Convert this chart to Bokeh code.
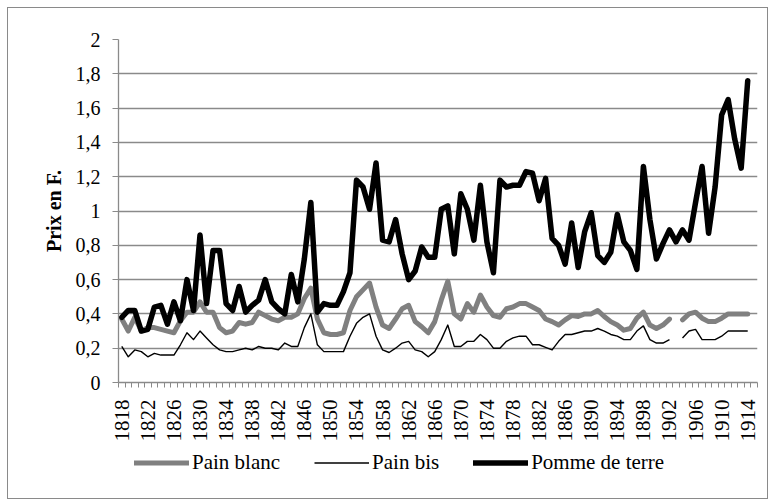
import math
from bokeh.plotting import figure
from bokeh.layouts import column
from bokeh.models import (ColumnDataSource, FixedTicker, Legend, LegendItem, Range1d)
from bokeh.embed import file_html
from bokeh.resources import INLINE

nan = float("nan")

years = list(range(1818, 1915))

pomme_de_terre = [
    0.38, 0.42, 0.42, 0.30, 0.31, 0.44, 0.45, 0.34, 0.47, 0.36,   # 1818-1827
    0.60, 0.42, 0.86, 0.46, 0.77, 0.77, 0.46, 0.42, 0.56, 0.41,   # 1828-1837
    0.45, 0.48, 0.60, 0.47, 0.43, 0.40, 0.63, 0.47, 0.72, 1.05,   # 1838-1847
    0.41, 0.46, 0.45, 0.45, 0.53, 0.64, 1.18, 1.14, 1.01, 1.28,   # 1848-1857
    0.83, 0.82, 0.95, 0.75, 0.60, 0.65, 0.79, 0.73, 0.73, 1.01,   # 1858-1867
    1.03, 0.75, 1.10, 1.01, 0.83, 1.15, 0.82, 0.64, 1.18, 1.14,   # 1868-1877
    1.15, 1.15, 1.23, 1.22, 1.06, 1.19, 0.84, 0.80, 0.69, 0.93,   # 1878-1887
    0.67, 0.88, 0.99, 0.74, 0.70, 0.76, 0.98, 0.82, 0.77, 0.66,   # 1888-1897
    1.26, 0.95, 0.72, 0.81, 0.89, 0.82, 0.89, 0.83, 1.05, 1.26,   # 1898-1907
    0.87, 1.14, 1.56, 1.65, 1.42, 1.25, 1.76,                     # 1908-1914
]

pain_blanc = [
    0.37, 0.30, 0.38, 0.30, 0.32, 0.32, 0.31, 0.30, 0.29, 0.36,   # 1818-1827
    0.41, 0.41, 0.47, 0.41, 0.41, 0.32, 0.29, 0.30, 0.35, 0.34,   # 1828-1837
    0.35, 0.41, 0.39, 0.37, 0.36, 0.38, 0.38, 0.40, 0.49, 0.55,   # 1838-1847
    0.37, 0.29, 0.28, 0.28, 0.29, 0.42, 0.50, 0.54, 0.58, 0.44,   # 1848-1857
    0.335, 0.315, 0.37, 0.43, 0.45, 0.355, 0.325, 0.29, 0.355, 0.48,  # 1858-1867
    0.59, 0.40, 0.37, 0.46, 0.41, 0.51, 0.44, 0.39, 0.38, 0.43,   # 1868-1877
    0.44, 0.46, 0.46, 0.44, 0.42, 0.37, 0.355, 0.335, 0.365, 0.39,  # 1878-1887
    0.385, 0.40, 0.40, 0.42, 0.385, 0.355, 0.335, 0.305, 0.315, 0.375,  # 1888-1897
    0.41, 0.335, 0.315, 0.335, 0.37, nan, 0.365, 0.40, 0.41, 0.375,  # 1898-1907
    0.355, 0.355, 0.375, 0.40, 0.40, 0.40, 0.40,                  # 1908-1914
]

pain_bis = [
    0.21, 0.15, 0.19, 0.18, 0.15, 0.17, 0.16, 0.16, 0.16, 0.22,   # 1818-1827
    0.29, 0.25, 0.30, 0.26, 0.22, 0.19, 0.18, 0.18, 0.19, 0.20,   # 1828-1837
    0.19, 0.21, 0.20, 0.20, 0.19, 0.23, 0.21, 0.21, 0.32, 0.40,   # 1838-1847
    0.22, 0.18, 0.18, 0.18, 0.18, 0.27, 0.345, 0.38, 0.40, 0.27,  # 1848-1857
    0.19, 0.175, 0.20, 0.23, 0.24, 0.19, 0.18, 0.15, 0.18, 0.25,  # 1858-1867
    0.335, 0.21, 0.21, 0.24, 0.24, 0.28, 0.25, 0.20, 0.20, 0.24,  # 1868-1877
    0.26, 0.27, 0.27, 0.22, 0.22, 0.205, 0.19, 0.24, 0.28, 0.28,  # 1878-1887
    0.29, 0.30, 0.30, 0.315, 0.30, 0.28, 0.27, 0.25, 0.25, 0.30,  # 1888-1897
    0.33, 0.25, 0.23, 0.23, 0.25, nan, 0.26, 0.30, 0.31, 0.25,    # 1898-1907
    0.25, 0.25, 0.27, 0.30, 0.30, 0.30, 0.30,                     # 1908-1914
]

y_ticks = [0, 0.2, 0.4, 0.6, 0.8, 1.0, 1.2, 1.4, 1.6, 1.8, 2.0]
y_tick_labels = ["0", "0,2", "0,4", "0,6", "0,8", "1", "1,2", "1,4", "1,6", "1,8", "2"]
x_label_years = years[::4]
series_names = ["Pain blanc", "Pain bis", "Pomme de terre"]
y_title = "Prix en F."

FONT = "'Liberation Serif', 'Times New Roman', serif"
GRID = "#8a8a8a"
styles = [dict(line_color="#808080", line_width=5, line_join="round", line_cap="round"),
          dict(line_color="black", line_width=1.4, line_join="round"),
          dict(line_color="black", line_width=5.5, line_join="round", line_cap="round")]

src = ColumnDataSource(dict(year=years, blanc=pain_blanc, bis=pain_bis, pomme=pomme_de_terre))

p = figure(frame_width=639, frame_height=343, output_backend="svg", toolbar_location=None,
           x_range=Range1d(years[0] - 0.5, years[-1] + 1.5), y_range=Range1d(0, 2),
           min_border_left=110, min_border_right=10, min_border_top=31, min_border_bottom=60)
p.outline_line_color = None
p.background_fill_color = "white"
p.border_fill_color = "white"

p.line("year", "blanc", source=src, **styles[0])
p.line("year", "bis", source=src, **styles[1])
p.line("year", "pomme", source=src, **styles[2])

# x axis
boundaries = [y - 0.5 for y in years] + [years[-1] + 0.5, years[-1] + 1.5]
p.xaxis.ticker = FixedTicker(ticks=x_label_years, minor_ticks=boundaries)
p.xaxis.major_label_orientation = math.pi / 2
p.xaxis.major_tick_line_color = None
p.xaxis.major_tick_out = 0
p.xaxis.major_tick_in = 0
p.xaxis.minor_tick_out = 5
p.xaxis.minor_tick_in = 0
p.xaxis.minor_tick_line_color = GRID
p.xaxis.axis_line_color = GRID
p.xaxis.axis_line_width = 1.3
p.xaxis.major_label_standoff = 12
p.xaxis.major_label_text_font = FONT
p.xaxis.major_label_text_font_size = "21px"
p.xaxis.major_label_text_color = "black"
p.xgrid.grid_line_color = None

# y axis
p.yaxis.ticker = FixedTicker(ticks=y_ticks, minor_ticks=[])
p.yaxis.major_label_overrides = {t: l for t, l in zip(y_ticks, y_tick_labels)}
p.yaxis.major_tick_out = 6
p.yaxis.major_tick_in = 0
p.yaxis.major_tick_line_color = GRID
p.yaxis.axis_line_color = GRID
p.yaxis.axis_line_width = 1.3
p.yaxis.major_label_standoff = 12
p.yaxis.major_label_text_font = FONT
p.yaxis.major_label_text_font_size = "20px"
p.yaxis.major_label_text_color = "black"
p.yaxis.axis_label = y_title
p.yaxis.axis_label_text_font = FONT
p.yaxis.axis_label_text_font_size = "20px"
p.yaxis.axis_label_text_font_style = "bold"
p.yaxis.axis_label_text_color = "black"
p.yaxis.axis_label_standoff = 8
p.ygrid.ticker = FixedTicker(ticks=y_ticks)
p.ygrid.grid_line_color = GRID
p.ygrid.grid_line_width = 1.3

# legend strip below the chart (its frame is aligned with the chart's frame)
lg = figure(width=759, height=54, output_backend="svg", toolbar_location=None,
            x_range=Range1d(0, 1), y_range=Range1d(0, 1),
            x_axis_location=None, y_axis_location=None, min_border=0)
lg.outline_line_color = None
lg.grid.visible = False
lg.background_fill_color = "white"
lg.border_fill_color = "white"
swatches = [lg.line(x=[nan], y=[nan], **s) for s in styles]
legend = Legend(items=[LegendItem(label=n, renderers=[r]) for n, r in zip(series_names, swatches)],
                orientation="horizontal", location=(16, 23),
                glyph_width=55, glyph_height=21, label_height=21, label_standoff=3,
                spacing=34, padding=0, margin=0,
                border_line_color=None, background_fill_alpha=0,
                label_text_font=FONT, label_text_font_size="21px", label_text_color="black")
lg.add_layout(legend, "center")

layout = column(p, lg, spacing=0)
layout.styles = {"border": "1px solid #8a8a8a", "margin-left": "7px", "margin-top": "7px",
                 "background-color": "white"}

open("out.html", "w").write(file_html(layout, INLINE))
